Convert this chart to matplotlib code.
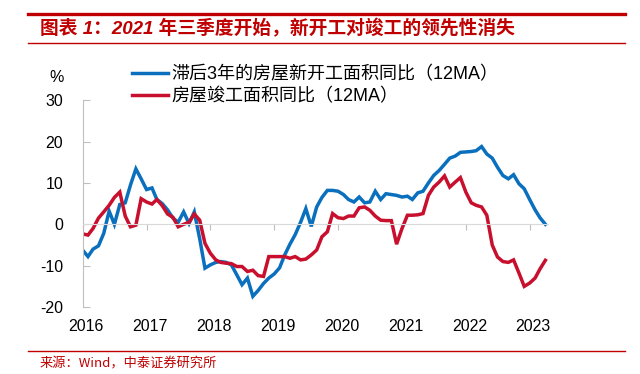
#!/usr/bin/env python3
"""Housing starts (lagged 3y) vs completions, 12MA yoy."""

import pandas as pd
import matplotlib
matplotlib.use("Agg")
import matplotlib.pyplot as plt
from matplotlib.lines import Line2D

plt.rcParams["font.family"] = ["Liberation Sans", "Noto Sans CJK SC", "DejaVu Sans"]
plt.rcParams["axes.unicode_minus"] = False

# ---------------------------
# Data (monthly, Jan 2016 - Apr 2023)
# ---------------------------

START = "2016-01-01"
N_MONTHS = 88

starts_lag3 = [
    -6.2, -7.8, -6.0, -5.2, -2.2, 3.2, 0.0, 4.8, 5.2, 9.5, 13.4, 11.0,
    8.4, 8.8, 6.0, 5.0, 3.5, 1.5, 0.5, 3.0, 0.2, 3.0, -3.5, -10.6,
    -9.8, -9.2, -9.0, -9.2, -9.8, -12.2, -14.6, -13.0, -17.4, -16.0, -14.3, -13.0,
    -12.0, -10.5, -7.5, -4.8, -2.5, 0.5, 3.8, -0.5, 4.2, 6.5, 8.2, 8.2,
    8.0, 7.2, 6.0, 5.4, 6.6, 5.2, 5.4, 8.0, 6.0, 7.4, 7.2, 7.0,
    6.6, 6.8, 6.0, 7.6, 8.0, 10.0, 11.8, 13.0, 14.5, 16.0, 16.5, 17.4,
    17.5, 17.6, 17.8, 18.8, 17.0, 16.0, 13.8, 11.8, 11.0, 12.0, 9.8, 8.6,
    6.0, 3.5, 1.6, 0.0,
]

completions = [
    -2.3, -2.6, -1.0, 1.5, 3.0, 4.6, 6.5, 7.8, 2.0, -0.6, -0.2, 6.2,
    5.4, 4.9, 6.0, 4.5, 2.5, 1.7, -0.6, 0.0, 0.5, 2.5, 1.0, -4.6,
    -7.0, -8.6, -9.2, -9.4, -9.5, -10.2, -10.2, -11.4, -11.1, -12.4, -12.6, -7.8,
    -7.8, -7.8, -7.8, -8.2, -7.8, -8.6, -8.4, -7.4, -6.2, -3.0, -1.8, 2.6,
    1.6, 1.4, 2.0, 2.0, 4.0, 4.2, 3.4, 2.0, 1.0, 0.9, 0.9, -4.8,
    -1.0, 2.2, 2.2, 2.3, 2.6, 7.0, 9.0, 10.2, 11.7, 9.0, 10.2, 11.3,
    7.8, 5.2, 4.6, 4.2, 2.2, -5.0, -7.9, -9.0, -9.2, -8.6, -11.8, -15.0,
    -14.2, -13.0, -10.8, -8.7,
]

labels = ["滞后3年的房屋新开工面积同比（12MA）", "房屋竣工面积同比（12MA）"]
years = [2016, 2017, 2018, 2019, 2020, 2021, 2022, 2023]
yticks = [-20, -10, 0, 10, 20, 30]

TITLE = "图表 1：2021 年三季度开始，新开工对竣工的领先性消失"
SOURCE = "来源：Wind，中泰证券研究所"

BLUE = "#0A70BE"
RED = "#C8102E"
HEAD_RED = "#C00000"
GRAY = "#BFBFBF"


def main() -> None:
    dates = pd.date_range(START, periods=N_MONTHS, freq="MS")

    fig = plt.figure(figsize=(6.4, 3.74), dpi=100)

    # header / footer rules
    fig.add_artist(Line2D([0.044, 0.977], [1 - 13.5 / 374] * 2, color=HEAD_RED, lw=2.4))
    fig.add_artist(Line2D([0.044, 0.977], [1 - 43 / 374] * 2, color=HEAD_RED, lw=1.0))
    fig.add_artist(Line2D([0.044, 0.977], [1 - 351 / 374] * 2, color=HEAD_RED, lw=1.0))
    fig.text(0.062, 1 - 29 / 374, TITLE, color=HEAD_RED, fontsize=13.5,
             fontweight="bold", fontstyle="italic", va="center", ha="left")
    fig.text(0.062, 1 - 364 / 374, SOURCE, color=HEAD_RED, fontsize=9.5,
             family=["Noto Sans CJK SC", "DejaVu Sans"], va="center", ha="left")

    ax = fig.add_axes([0.129, 0.179, 0.727, 0.553])
    ax.plot(dates, starts_lag3, color=BLUE, lw=2.5, label=labels[0], solid_joinstyle="miter")
    ax.plot(dates, completions, color=RED, lw=2.5, label=labels[1], solid_joinstyle="miter")

    ax.set_ylim(-20, 30)
    ax.set_xlim(dates[0], pd.Timestamp("2023-04-15"))
    ax.set_yticks(yticks)
    ax.set_yticklabels([str(v) for v in yticks], fontsize=11.5)
    ax.tick_params(axis="y", direction="in", length=5, color=GRAY, pad=14)

    # x axis sits on the zero line, year labels along the bottom
    ticks = [pd.Timestamp(f"{y}-01-01") for y in years]
    ax.set_xticks(ticks)
    ax.set_xticklabels([])
    ax.tick_params(axis="x", direction="out", length=4, color=GRAY)
    for t, y in zip(ticks, years):
        ax.text(t + pd.Timedelta(days=20), -0.095, str(y), transform=ax.get_xaxis_transform(),
                ha="center", va="center", fontsize=11.5)

    ax.spines["bottom"].set_position(("data", 0))
    ax.spines["bottom"].set_color("#D9D9D9")
    ax.spines["left"].set_color(GRAY)
    ax.spines["top"].set_visible(False)
    ax.spines["right"].set_visible(False)

    fig.text(0.088, 1 - 78 / 374, "%", fontsize=11.5, ha="center", va="center")

    fig.legend(loc="upper left", bbox_to_anchor=(0.206, 1 - 66 / 374), frameon=False,
               fontsize=13.0, handlelength=2.0, handletextpad=0.2, labelspacing=0.25,
               borderaxespad=0, borderpad=0)

    fig.savefig("out.png", dpi=100)
    plt.close(fig)


if __name__ == "__main__":
    main()
